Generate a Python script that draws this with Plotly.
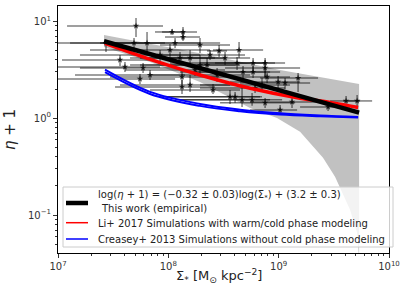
import numpy as np
import plotly.graph_objects as go

# ---- data (log10 values) ----
# individual measurements: log Sigma*, log(eta+1) with error-bar ends
pt_lx = [7.707, 8.034, 8.133, 8.133, 7.435, 7.689, 7.807, 8.287, 8.460, 8.641,
         8.106, 8.197, 8.197, 8.124, 8.442, 8.351, 8.287, 8.623, 8.768, 8.877,
         8.677, 8.768, 8.895, 8.995, 9.176, 8.559, 8.668, 8.759, 9.121, 9.013,
         8.849, 8.877, 9.058, 8.877, 9.448, 9.611, 9.711, 7.771, 8.405, 8.124,
         8.605, 7.925, 8.015, 7.562, 7.834, 7.607, 7.743, 8.514, 8.242, 8.786,
         8.061, 8.378]
pt_ly = [0.952, 0.890, 0.890, 0.838, 0.776, 0.776, 0.776, 0.756, 0.694, 0.704,
         0.622, 0.622, 0.343, 0.426, 0.446, 0.549, 0.549, 0.570, 0.570, 0.570,
         0.477, 0.477, 0.426, 0.374, 0.415, 0.220, 0.189, 0.189, 0.168, 0.085,
         0.343, 0.519, 0.364, 0.158, 0.116, 0.178, 0.178, 0.519, 0.292, 0.323,
         0.220, 0.653, 0.704, 0.601, 0.446, 0.529, 0.405, 0.622, 0.498, 0.312,
         0.776, 0.653]
pt_lx_lo = [7.082, 7.879, 7.943, 7.970, 6.900, 7.109, 7.381, 7.925, 8.351, 8.405,
            7.653, 7.743, 7.562, 7.471, 7.834, 7.743, 7.653, 8.015, 8.287, 8.423,
            8.106, 8.197, 8.378, 8.559, 8.831, 7.925, 8.061, 8.106, 8.741, 8.741,
            8.287, 8.514, 8.650, 8.469, 9.194, 9.466, 9.584, 7.199, 7.834, 7.517,
            7.970, 7.199, 7.290, 7.036, 7.154, 6.800, 6.800, 7.925, 7.607, 8.287,
            7.471, 7.834]
pt_lx_hi = [7.952, 8.151, 8.260, 8.287, 7.471, 7.970, 8.287, 8.559, 8.532, 8.859,
            8.423, 8.514, 8.559, 8.423, 8.741, 8.650, 8.605, 8.877, 8.967, 9.058,
            8.922, 9.013, 9.103, 9.194, 9.357, 8.831, 8.922, 9.031, 9.375, 9.167,
            9.103, 9.194, 9.285, 9.149, 9.647, 9.738, 9.847, 8.106, 8.650, 8.423,
            8.849, 8.287, 8.378, 7.834, 8.151, 7.925, 8.061, 8.741, 8.514, 9.058,
            8.469, 8.695]
pt_ly_hi = [1.034, 0.921, 0.941, 0.879, 0.807, 0.828, 0.890, 0.828, 0.756, 0.787,
            0.684, 0.704, 0.446, 0.498, 0.519, 0.622, 0.653, 0.632, 0.622, 0.622,
            0.539, 0.539, 0.467, 0.436, 0.467, 0.292, 0.312, 0.261, 0.220, 0.137,
            0.415, 0.601, 0.415, 0.209, 0.158, 0.230, 0.240, 0.570, 0.354, 0.395,
            0.271, 0.704, 0.766, 0.653, 0.498, 0.580, 0.457, 0.684, 0.549, 0.364,
            0.828, 0.704]
pt_ly_lo = [0.838, 0.859, 0.807, 0.797, 0.684, 0.704, 0.653, 0.673, 0.632, 0.622,
            0.560, 0.539, 0.271, 0.354, 0.374, 0.477, 0.446, 0.498, 0.477, 0.415,
            0.415, 0.415, 0.364, 0.312, 0.271, 0.147, 0.116, 0.127, 0.106, 0.034,
            0.271, 0.426, 0.302, 0.106, 0.075, 0.116, 0.116, 0.467, 0.250, 0.250,
            0.158, 0.580, 0.632, 0.539, 0.395, 0.477, 0.354, 0.549, 0.436, 0.261,
            0.725, 0.601]

# empirical fit line (end points)
fit_lx = [7.417, 9.729]
fit_ly = [0.794, 0.058]

# confidence band of the fit
band_up_lx = [7.417, 8.287, 9.000, 9.729]
band_up_ly = [0.859, 0.669, 0.500, 0.354]
band_lo_lx = [7.417, 7.834, 8.287, 8.741, 8.985, 9.194, 9.402, 9.511, 9.647, 9.711, 9.729]
band_lo_ly = [0.735, 0.580, 0.374, 0.106, 0.003, -0.141, -0.409, -0.605, -0.945, -1.182, -1.450]

# Li+ 2017
li_lx = [7.426, 7.925, 8.287, 8.741, 9.194, 9.466, 9.720]
li_ly = [0.773, 0.573, 0.446, 0.309, 0.206, 0.163, 0.111]

# Creasey+ 2013 (two close curves)
cr_lx = [7.426, 7.834, 8.287, 8.650, 9.013, 9.375, 9.720]
cr_ly_a = [0.501, 0.272, 0.147, 0.088, 0.050, 0.028, 0.013]
cr_ly_b = [0.475, 0.250, 0.127, 0.072, 0.038, 0.020, 0.007]

xtick_vals = [1e7, 1e8, 1e9, 1e10]
xtick_text = ["10<sup>7</sup>", "10<sup>8</sup>", "10<sup>9</sup>", "10<sup>10</sup>"]
ytick_vals = [0.1, 1, 10]
ytick_text = ["10<sup>−1</sup>", "10<sup>0</sup>", "10<sup>1</sup>"]

fit_label_1 = "log(<i>η</i> + 1) = (−0.32 ± 0.03)log(Σ<sub>*</sub>) + (3.2 ± 0.3)"
fit_label_2 = "This work (empirical)"
li_label = "Li+ 2017 Simulations with warm/cold phase modeling"
cr_label = "Creasey+ 2013 Simulations without cold phase modeling"

# ---- build ----
P = lambda a: 10 ** np.asarray(a, dtype=float)
FONT = "DejaVu Sans"

fig = go.Figure()

bx = np.concatenate([P(band_up_lx), P(band_lo_lx)[::-1]])
by = np.concatenate([P(band_up_ly), P(band_lo_ly)[::-1]])
fig.add_trace(go.Scatter(x=bx, y=by, fill="toself", mode="lines",
                         line=dict(width=0), fillcolor="rgba(160,160,160,0.65)",
                         showlegend=False, hoverinfo="skip"))

x = P(pt_lx); y = P(pt_ly)
fig.add_trace(go.Scatter(
    x=x, y=y, mode="markers",
    marker=dict(symbol="star", size=5, color="rgba(0,0,0,0.75)", line=dict(width=0)),
    error_x=dict(type="data", symmetric=False, array=P(pt_lx_hi) - x,
                 arrayminus=x - P(pt_lx_lo), color="rgba(0,0,0,0.5)",
                 thickness=1.5, width=0),
    error_y=dict(type="data", symmetric=False, array=P(pt_ly_hi) - y,
                 arrayminus=y - P(pt_ly_lo), color="rgba(0,0,0,0.5)",
                 thickness=1.5, width=0),
    showlegend=False))

fig.add_trace(go.Scatter(x=P(cr_lx), y=P(cr_ly_a), mode="lines",
                         line=dict(color="blue", width=2, shape="spline"), name=cr_label))
fig.add_trace(go.Scatter(x=P(cr_lx), y=P(cr_ly_b), mode="lines",
                         line=dict(color="blue", width=2, shape="spline"), name=cr_label))
fig.add_trace(go.Scatter(x=P(li_lx), y=P(li_ly), mode="lines",
                         line=dict(color="red", width=3.5, shape="spline"), name=li_label))
fig.add_trace(go.Scatter(x=P(fit_lx), y=P(fit_ly), mode="lines",
                         line=dict(color="black", width=4.5), name=fit_label_2))

axis_common = dict(showgrid=False, zeroline=False, showline=True, mirror=True,
                   linecolor="black", linewidth=1, ticks="outside", ticklen=4,
                   tickcolor="#333", tickfont=dict(family=FONT, size=10, color="#333"))

minor_x = [m * 10 ** e for e in range(7, 10) for m in range(2, 10)]
minor_y = [m * 10 ** e for e in range(-2, 2) for m in range(2, 10)]

fig.update_xaxes(type="log", range=[7, 10], tickmode="array", tickvals=xtick_vals,
                 ticktext=xtick_text,
                 minor=dict(ticks="outside", ticklen=2, tickcolor="#333", tickvals=minor_x),
                 **axis_common)
fig.update_yaxes(type="log", range=[-1.392, 1.158], tickmode="array", tickvals=ytick_vals,
                 ticktext=ytick_text,
                 minor=dict(ticks="outside", ticklen=2, tickcolor="#333", tickvals=minor_y),
                 title=dict(text="<i>η</i> + 1", font=dict(family=FONT, size=15, color="#222"),
                            standoff=8),
                 **axis_common)

# plot area in pixels: x 58..389, y 6..253
W, H, L, R, T, B = 407, 300, 58, 18, 6, 47
pw, ph = W - L - R, H - T - B
px = lambda v: (v - L) / pw
py = lambda v: (H - B - v) / ph

shapes = [
    dict(type="rect", xref="paper", yref="paper", x0=px(63), x1=px(393), y0=py(247), y1=py(187),
         fillcolor="rgba(255,255,255,0.8)", line=dict(color="#cccccc", width=1), layer="above"),
    dict(type="line", xref="paper", yref="paper", x0=px(66), x1=px(88), y0=py(203), y1=py(203),
         line=dict(color="black", width=4.5), layer="above"),
    dict(type="line", xref="paper", yref="paper", x0=px(66), x1=px(88), y0=py(222.7), y1=py(222.7),
         line=dict(color="red", width=1.5), layer="above"),
    dict(type="line", xref="paper", yref="paper", x0=px(66), x1=px(88), y0=py(239), y1=py(239),
         line=dict(color="blue", width=1.5), layer="above"),
]
lf = dict(family=FONT, size=10, color="#222")
annotations = [
    dict(text=fit_label_1, x=px(95.7), y=py(195.7)),
    dict(text=fit_label_2, x=px(99), y=py(208.3)),
    dict(text=li_label, x=px(95.7), y=py(223.3)),
    dict(text=cr_label, x=px(95.7), y=py(239.3)),
]
for a in annotations:
    a.update(xref="paper", yref="paper", xanchor="left", yanchor="middle",
             showarrow=False, font=lf)
annotations.append(dict(text="Σ<sub>*</sub> [M<sub>⊙</sub> kpc<sup>−2</sup>]",
                        xref="paper", yref="paper", x=px(218.5), y=py(276),
                        xanchor="center", yanchor="middle", showarrow=False,
                        font=dict(family=FONT, size=13, color="#222")))

fig.update_layout(
    width=W, height=H,
    margin=dict(l=L, r=R, t=T, b=B),
    paper_bgcolor="white", plot_bgcolor="white",
    font=dict(family=FONT, color="#222"),
    showlegend=False,
    shapes=shapes, annotations=annotations,
)

fig.write_html("out.html", config={"displayModeBar": False},
               post_script="document.body.style.margin='0';")
